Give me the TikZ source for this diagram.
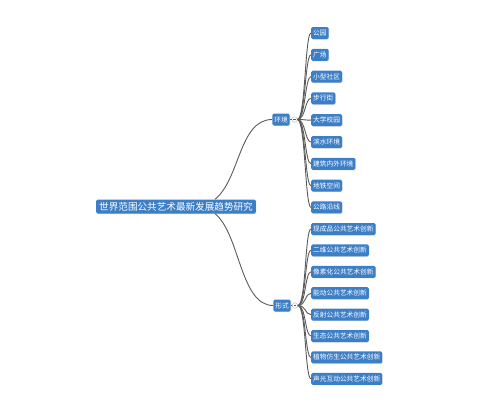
\documentclass[tikz,border=0pt]{standalone}
\usepackage{fontspec}
\newfontfamily\cjk{Noto Sans CJK SC}
\usepackage{xcolor}
\usepackage{tikz}
\usetikzlibrary{arrows.meta, positioning, calc, shadows}
\definecolor{boxblue}{RGB}{61,127,199}
\definecolor{linegray}{RGB}{90,90,90}

\begin{document}
\begin{tikzpicture}[x=1pt, y=-1pt,
    topic/.style={fill=boxblue, text=white, rounded corners=1.5pt, inner xsep=3pt, inner ysep=0pt,
        minimum height=14pt, font=\cjk\fontsize{9.6}{10}\selectfont,
        drop shadow={shadow xshift=0.6pt, shadow yshift=-0.6pt, opacity=0.25}},
    branch/.style={topic, inner xsep=2pt, minimum height=12pt, font=\cjk\fontsize{6.7}{7}\selectfont},
    leaf/.style={branch, anchor=west},
    fold/.style={circle, draw=gray!60, fill=white, inner sep=0pt, minimum size=5.5pt},
    link/.style={draw=linegray, line width=0.9pt}]
    \useasboundingbox (0,0) rectangle (500,415);
    % Root topic
    \node[topic] (root) at (176,206.5) {世界范围公共艺术最新发展趋势研究};
    % Branch: environment
    \node[branch] (env) at (281,119.5) {环境};
    \node[fold] (envdot) at (294.5,119.5) {};
    \draw[linegray, line width=0.5pt] ($(envdot.center)+(-1.3,0)$) -- ($(envdot.center)+(1.3,0)$);
    \draw[link] ($(root.north)+(39,0)$) .. controls +(25,-20) and +(-33,0) .. (env.west);
    \draw[link] (env.east) -- (envdot.west);
    % Branch: form
    \node[branch] (form) at (282,305.5) {形式};
    \node[fold] (formdot) at (295,305.5) {};
    \draw[linegray, line width=0.5pt] ($(formdot.center)+(-1.3,0)$) -- ($(formdot.center)+(1.3,0)$);
    \draw[link] ($(root.south)+(39,0)$) .. controls +(25,20) and +(-33,0) .. (form.west);
    \draw[link] (form.east) -- (formdot.west);
    % Leaves
    \foreach \txt [count=\i from 0] in {公园,广场,小型社区,步行街,大学校园,滨水环境,建筑内外环境,地铁空间,公路沿线} {
        \node[leaf] (env\i) at (311,{33+21.8*\i}) {\txt};
        \draw[link] (envdot.east) .. controls +(8,0) and +(-6,0) .. (env\i.west);
    }
    \foreach \txt [count=\i from 0] in {现成品公共艺术创新,二维公共艺术创新,像素化公共艺术创新,能动公共艺术创新,反射公共艺术创新,生态公共艺术创新,植物仿生公共艺术创新,声光互动公共艺术创新} {
        \node[leaf] (form\i) at (311,{229+21.4*\i}) {\txt};
        \draw[link] (formdot.east) .. controls +(8,0) and +(-6,0) .. (form\i.west);
    }
\end{tikzpicture}
\end{document}
